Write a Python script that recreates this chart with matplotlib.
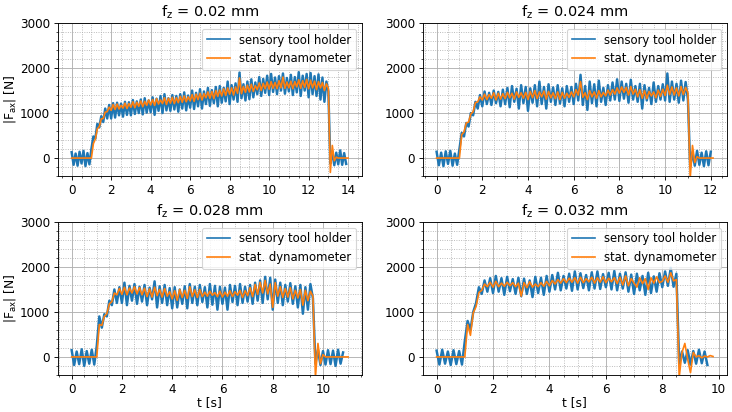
import matplotlib
matplotlib.use('Agg')
import matplotlib.pyplot as plt
import numpy as np

# sample spacing of the read-off values [s]
dt = 0.1

titles = ['0.02', '0.024', '0.028', '0.032']

# fz = 0.02 mm
tool_02 = [
    130, -150, 100, -170, 140, -120, 160, -180, 110, -140,
    200, 480, 430, 760, 680, 930, 800, 1100, 880, 1180,
    880, 1220, 900, 1230, 950, 1210, 920, 1250, 960, 1240,
    950, 1290, 980, 1260, 1000, 1300, 970, 1330, 1010, 1280,
    1020, 1350, 960, 1320, 1050, 1380, 1000, 1420, 1060, 1330,
    1050, 1400, 1080, 1380, 1030, 1420, 1100, 1460, 1060, 1390,
    1120, 1500, 1090, 1450, 1150, 1530, 1100, 1480, 1200, 1560,
    1160, 1510, 1220, 1580, 1150, 1600, 1230, 1560, 1260, 1700,
    1200, 1620, 1300, 1660, 1250, 1900, 1330, 1640, 1280, 1700,
    1310, 1750, 1350, 1680, 1420, 1800, 1380, 1760, 1450, 1830,
    1400, 1870, 1470, 1790, 1420, 1820, 1500, 1880, 1430, 1780,
    1480, 1850, 1400, 1800, 1460, 1910, 1380, 1830, 1500, 1870,
    1350, 1890, 1420, 1820, 1380, 1860, 1300, 1790, 1250, 1700,
    1480, -120, 150, -160, 120, -140, 170, -150, 110, -130]
dyn_02 = [
    0, 0, 0, 0, 0, 0, 0, 0, 0, 0,
    0, 320, 420, 650, 700, 870, 880, 1020, 1030, 1130,
    1060, 1190, 1080, 1200, 1090, 1170, 1110, 1220, 1100, 1210,
    1130, 1250, 1120, 1240, 1150, 1270, 1140, 1260, 1170, 1290,
    1180, 1300, 1170, 1320, 1200, 1290, 1210, 1340, 1190, 1330,
    1220, 1350, 1210, 1340, 1230, 1370, 1240, 1380, 1250, 1360,
    1270, 1410, 1260, 1420, 1300, 1440, 1290, 1430, 1340, 1470,
    1330, 1480, 1320, 1500, 1370, 1510, 1380, 1540, 1390, 1560,
    1420, 1560, 1400, 1580, 1440, 1780, 1430, 1590, 1460, 1620,
    1470, 1640, 1480, 1610, 1520, 1670, 1500, 1660, 1540, 1690,
    1530, 1700, 1550, 1680, 1540, 1720, 1560, 1800, 1550, 1690,
    1560, 1710, 1540, 1700, 1580, 1740, 1550, 1720, 1570, 1750,
    1540, 1730, 1560, 1710, 1520, 1700, 1560, 1680, 1500, 1650,
    1550, -320, 280, -60, 20, 0, 0, 0, 0, 0,
    0]

# fz = 0.024 mm
tool_024 = [
    140, -160, 120, -180, 150, -130, 160, -170, 100, -150,
    200, 560, 480, 780, 700, 1000, 950, 1250, 1100, 1400,
    1150, 1480, 1200, 1450, 1180, 1500, 1220, 1470, 1150, 1520,
    1200, 1560, 1130, 1600, 1250, 1540, 1100, 1620, 1220, 1580,
    1050, 1550, 1230, 1620, 1150, 1700, 1200, 1580, 1100, 1640,
    1250, 1570, 1180, 1620, 1210, 1550, 1150, 1600, 1250, 1580,
    1200, 1650, 1280, 1850, 1180, 1600, 1070, 1700, 1220, 1640,
    1150, 1720, 1250, 1560, 1180, 1620, 1280, 1680, 1300, 1750,
    1270, 1700, 1320, 1650, 1230, 1740, 1300, 1600, 1250, 1650,
    1100, 1620, 1280, 1560, 1200, 1680, 1250, 1600, 1300, 1640,
    1280, 1880, 1250, 1700, 1300, 1650, 1230, 1720, 1280, 1690,
    1300, -200, 130, -170, 160, -150, 120, -180, 150, -160,
    140]
dyn_024 = [
    0, 0, 0, 0, 0, 0, 0, 0, 0, 0,
    0, 520, 580, 780, 800, 980, 1030, 1230, 1250, 1360,
    1290, 1420, 1300, 1410, 1330, 1450, 1290, 1440, 1310, 1430,
    1320, 1460, 1340, 1440, 1310, 1470, 1350, 1450, 1330, 1460,
    1300, 1480, 1340, 1500, 1320, 1470, 1360, 1490, 1310, 1480,
    1340, 1450, 1320, 1470, 1300, 1460, 1330, 1440, 1350, 1470,
    1360, 1520, 1400, 1700, 1350, 1450, 1300, 1500, 1360, 1470,
    1330, 1500, 1360, 1460, 1380, 1510, 1400, 1520, 1420, 1560,
    1440, 1580, 1460, 1570, 1400, 1590, 1420, 1530, 1360, 1520,
    1330, 1500, 1320, 1480, 1380, 1470, 1340, 1510, 1370, 1530,
    1390, 1620, 1410, 1580, 1400, 1560, 1380, 1590, 1410, 1570,
    1450, -450, 280, -100, 30, 0, 0, 0, 0, 0,
    0, 0]

# fz = 0.028 mm
tool_028 = [
    150, -180, 120, -160, 170, -200, 130, -150, 160, -170,
    250, 900, 650, 950, 900, 1250, 1150, 1500, 1200, 1550,
    1200, 1650, 1150, 1580, 1250, 1620, 1180, 1560, 1230, 1600,
    1150, 1540, 1280, 1680, 1100, 1570, 1200, 1600, 1150, 1530,
    1080, 1550, 1100, 1500, 1180, 1570, 1080, 1620, 1200, 1560,
    1150, 1600, 1220, 1550, 1100, 1620, 1160, 1580, 1050, 1560,
    1180, 1540, 1050, 1600, 1220, 1580, 1150, 1620, 1200, 1560,
    1230, 1600, 1180, 1650, 1250, 1700, 1200, 1780, 1280, 1760,
    1050, 1720, 1200, 1650, 1150, 1600, 1230, 1640, 1180, 1570,
    1100, 1600, 960, 1550, 1050, 1620, 1300,
    -150, 160, -180, 130, -170, 150, -160, 140, -200, 160, -150, 100]
dyn_028 = [
    0, 0, 0, 0, 0, 0, 0, 0, 0, 0,
    0, 720, 700, 900, 960, 1180, 1230, 1420, 1380, 1520,
    1390, 1550, 1380, 1530, 1420, 1560, 1400, 1540, 1380, 1530,
    1340, 1510, 1330, 1550, 1360, 1500, 1330, 1520, 1350, 1450,
    1290, 1470, 1260, 1500, 1320, 1480, 1300, 1560, 1340, 1490,
    1320, 1500, 1340, 1440, 1350, 1460, 1370, 1430, 1340, 1460,
    1330, 1440, 1350, 1470, 1340, 1450, 1370, 1480, 1320, 1470,
    1360, 1540, 1340, 1610, 1390, 1660, 1420, 1700, 1400, 1620,
    1100, 1650, 1350, 1560, 1320, 1520, 1330, 1540, 1290, 1480,
    1310, 1500, 1150, 1480, 1250, 1460, 1350,
    -450, 300, -150, 50, 0, 0, 0, 0, 0, 0, 0, 0, 0, 0]

# fz = 0.032 mm
tool_032 = [
    140, -170, 160, -150, 120, -180, 150, -160, 130, -170,
    350, 800, 600, 1000, 1200, 1550, 1400, 1700, 1450, 1750,
    1420, 1800, 1450, 1750, 1380, 1780, 1460, 1730, 1400, 1760,
    1350, 1740, 1400, 1700, 1330, 1780, 1420, 1760, 1380, 1800,
    1450, 1820, 1500, 1870, 1480, 1800, 1520, 1850, 1470, 1900,
    1500, 1860, 1530, 1820, 1480, 1880, 1520, 1900, 1510, 1840,
    1550, 1870, 1500, 1910, 1480, 1850, 1520, 1880, 1450, 1830,
    1400, 1850, 1480, 1800, 1380, 1870, 1420, 1790, 1450, 1860,
    1550, 1900, 1580, 1980, 1560, 1850,
    -150, 120, -130, 150, -170, 130, -150, 160, -140, 120, -180]
dyn_032 = [
    0, 0, 0, 0, 0, 0, 0, 0, 0, 0,
    0, 720, 480, 980, 1120, 1430, 1480, 1620, 1560, 1660,
    1550, 1680, 1560, 1640, 1570, 1660, 1580, 1650, 1560, 1640,
    1350, 1650, 1540, 1670, 1550, 1620, 1560, 1650, 1570, 1680,
    1580, 1700, 1620, 1720, 1640, 1740, 1650, 1750, 1660, 1760,
    1640, 1770, 1650, 1740, 1670, 1770, 1640, 1760, 1660, 1780,
    1650, 1750, 1670, 1760, 1630, 1770, 1600, 1800, 1580, 1740,
    1640, 1550, 1760, 1630, 1740, 1500, 1760, 1640, 1780, 1650,
    1680, 1800, 1660, 1870, 1690, 1720,
    -450, 100, 300, -50, -350, 100, 0, 30, -20, 20, 0, 30, 10]

tool_data = [tool_02, tool_024, tool_028, tool_032]
dyn_data = [dyn_02, dyn_024, dyn_028, dyn_032]


def setupAxis(ax, title, left, bottom):
    ax.set_title(r'f$_\mathrm{z}$ = ' + title + ' mm', fontsize=13)
    ax.set_ylim(-400, 3000)
    ax.set_yticks([0, 1000, 2000, 3000])
    ax.minorticks_on()
    ax.tick_params(labelsize=10.8)
    ax.grid(which='major', color='#b0b0b0', linestyle='-', linewidth=0.8)
    ax.grid(which='minor', color='#b0b0b0', linestyle=':', linewidth=0.8)
    ax.set_axisbelow(True)
    if left:
        ax.set_ylabel(r'|F$_\mathrm{ax}$| [N]', fontsize=11, labelpad=2)
    if bottom:
        ax.set_xlabel('t [s]', fontsize=11, labelpad=0)
    leg = ax.legend(loc='upper right', fontsize=10.5)
    for line in leg.get_lines():
        line.set_linewidth(1.5)


fig, axes = plt.subplots(2, 2, figsize=(9.15, 5.15), dpi=80)
fig.subplots_adjust(left=0.079, right=0.993, top=0.944, bottom=0.09,
                    wspace=0.2, hspace=0.3)

for i, ax in enumerate(axes.flat):
    tool = np.array(tool_data[i])
    dyn = np.array(dyn_data[i])
    ax.plot(np.arange(len(tool)) * dt, tool, color='C0', linewidth=2.2,
            label='sensory tool holder')
    ax.plot(np.arange(len(dyn)) * dt, dyn, color='C1', linewidth=1.5,
            label='stat. dynamometer')
    setupAxis(ax, titles[i], i % 2 == 0, i >= 2)

fig.savefig('out.png', dpi=80)
